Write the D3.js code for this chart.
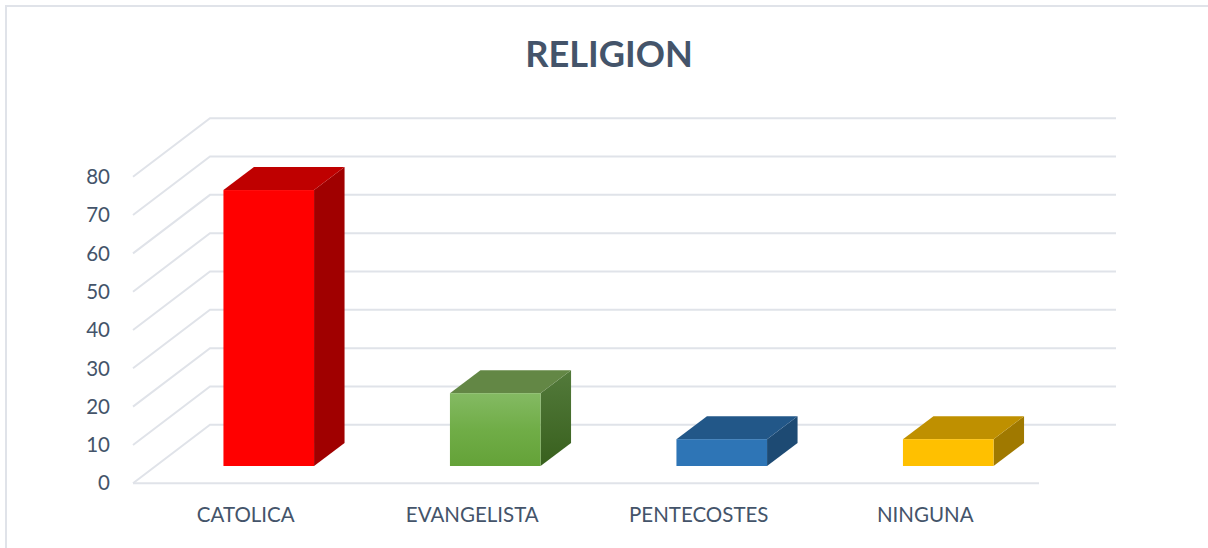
<!DOCTYPE html>
<html>
<head>
<meta charset="utf-8">
<script src="https://cdn.jsdelivr.net/npm/d3@7"></script>
<style>
  html, body { margin: 0; padding: 0; background: #fff; }
  text { font-family: Lato, "Open Sans", sans-serif; fill: #44546a; }
</style>
</head>
<body>
<div id="chart"></div>
<script>
var categories = ["CATOLICA", "EVANGELISTA", "PENTECOSTES", "NINGUNA"]
var values = [72, 19, 7, 7]
var yTicks = [0, 10, 20, 30, 40, 50, 60, 70, 80]
var frontColors = ["#ff0000", "url(#greenFront)", "#2e75b6", "#ffc000"]
var topColors = ["#bf0000", "#638745", "#225788", "#bf9000"]
var sideColors = ["#a00000", "url(#greenSide)", "#1d4a73", "#a07900"]

var WIDTH = 1208, HEIGHT = 548
var GRID_COLOR = "#e0e3e9"
// oblique offsets of the 3d floor
var WALL_DX = 77, WALL_DY = -58.5
var BAR_OFF_X = 22.5, BAR_OFF_Y = -17.3
var BAR_DX = 30.5, BAR_DY = -23

const svg = d3.select("#chart").append("svg")
  .attr("width", WIDTH)
  .attr("height", HEIGHT)
  .style("display", "block")

var x = d3.scaleBand().domain(categories).range([133, 1039]).paddingInner(0).paddingOuter(0)
var y = d3.scaleLinear().domain([0, 80]).range([483.3, 176.7])
var barWidth = x.bandwidth() * 0.4

var defs = svg.append("defs")
function gradient(id, stops) {
  var g = defs.append("linearGradient").attr("id", id)
    .attr("x1", 0).attr("y1", 0).attr("x2", 0).attr("y2", 1)
  stops.forEach(function(s) {
    g.append("stop").attr("offset", s[0]).attr("stop-color", s[1])
  })
}
gradient("greenFront", [[0, "#84ba63"], [0.5, "#70ad47"], [1, "#64a238"]])
gradient("greenSide", [[0, "#537a3b"], [1, "#38601d"]])

// outer frame
svg.append("rect")
  .attr("x", 6).attr("y", 6)
  .attr("width", 1300).attr("height", 700)
  .attr("fill", "none")
  .attr("stroke", GRID_COLOR)
  .attr("stroke-width", 2)

svg.append("text")
  .attr("x", 609).attr("y", 67)
  .attr("text-anchor", "middle")
  .style("font-size", "36.2px")
  .style("font-weight", "700")
  .text("RELIGION")

// grid lines: side wall and back wall
var grid = svg.append("g")
grid.selectAll("path").data(yTicks).enter().append("path")
  .attr("fill", "none")
  .attr("stroke", GRID_COLOR)
  .attr("stroke-width", 2)
  .attr("d", function(d) {
    return d3.line()([[133, y(d)], [133 + WALL_DX, y(d) + WALL_DY], [1116, y(d) + WALL_DY]])
  })

// floor front edge
svg.append("line")
  .attr("x1", 133).attr("x2", 1039)
  .attr("y1", y(0)).attr("y2", y(0))
  .attr("stroke", GRID_COLOR)
  .attr("stroke-width", 2)

// y labels
svg.append("g").selectAll("text").data(yTicks).enter().append("text")
  .attr("x", 110).attr("y", function(d) { return y(d) })
  .attr("dy", "0.35em")
  .attr("text-anchor", "end")
  .style("font-size", "20.5px")
  .text(function(d) { return d })

// x labels
svg.append("g").selectAll("text").data(categories).enter().append("text")
  .attr("x", function(d) { return x(d) + x.bandwidth() / 2 - 0.5 })
  .attr("y", 521.5)
  .attr("text-anchor", "middle")
  .style("font-size", "20.5px")
  .text(function(d) { return d })

// bars
var bars = svg.append("g").selectAll("g").data(categories).enter().append("g")

function barCorners(d, i) {
  var left = x(d) + (x.bandwidth() - barWidth) / 2 + BAR_OFF_X
  var right = left + barWidth
  var bottom = y(0) + BAR_OFF_Y
  var top = bottom - (y(0) - y(values[i]))
  return {left: left, right: right, bottom: bottom, top: top}
}

bars.append("path")
  .attr("fill", function(d, i) { return sideColors[i] })
  .attr("d", function(d, i) {
    var c = barCorners(d, i)
    return d3.line()([[c.right, c.top], [c.right + BAR_DX, c.top + BAR_DY], [c.right + BAR_DX, c.bottom + BAR_DY], [c.right, c.bottom]]) + "Z"
  })

bars.append("path")
  .attr("fill", function(d, i) { return topColors[i] })
  .attr("d", function(d, i) {
    var c = barCorners(d, i)
    return d3.line()([[c.left, c.top], [c.left + BAR_DX, c.top + BAR_DY], [c.right + BAR_DX, c.top + BAR_DY], [c.right, c.top]]) + "Z"
  })

bars.append("rect")
  .attr("fill", function(d, i) { return frontColors[i] })
  .attr("x", function(d, i) { return barCorners(d, i).left })
  .attr("y", function(d, i) { return barCorners(d, i).top })
  .attr("width", barWidth)
  .attr("height", function(d, i) { var c = barCorners(d, i); return c.bottom - c.top })
</script>
</body>
</html>
